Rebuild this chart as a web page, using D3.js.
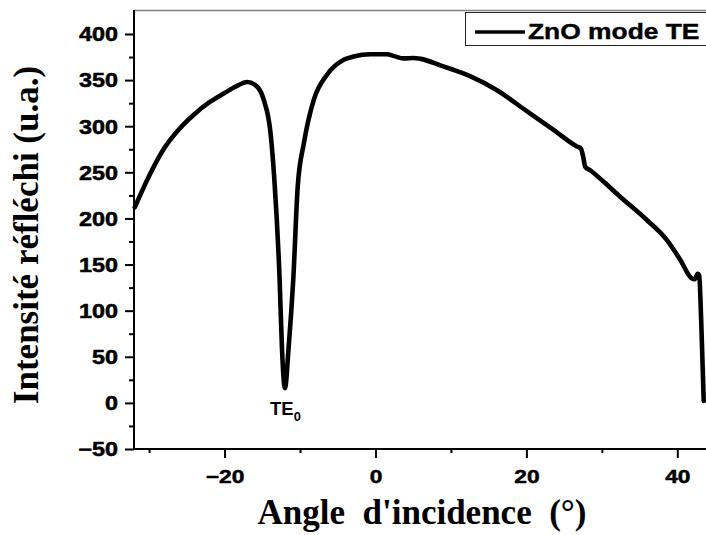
<!DOCTYPE html>
<html>
<head>
<meta charset="utf-8">
<script src="https://cdn.jsdelivr.net/npm/d3@7"></script>
<style>
  html, body { margin: 0; padding: 0; background: #fff; }
  svg { display: block; }
</style>
</head>
<body>
<svg id="chart" width="706" height="535"></svg>
<script>
// ---- data ----
const angles = [-31.9, -30.0, -28.0, -26.0, -24.0, -22.0, -20.0, -18.5, -17.0, -15.7, -14.8,
  -13.9, -13.4, -12.7, -12.4, -12.0, -11.5, -10.9, -10.3, -9.5, -8.2,
  -6.4, -4.2, -2.9, -0.7, 1.5, 2.5, 3.7, 5.0, 6.0, 8.6,
  10.0, 12.6, 16.1, 20.1, 23.6, 26.7, 27.2, 27.5, 27.8, 28.5,
  30.2, 32.5, 36.0, 38.6, 40.4, 41.9, 42.3, 42.7, 42.9, 43.2, 43.5];
const intensity = [212, 246, 276, 297, 313, 326, 336, 343, 348, 343, 328.5,
  292, 242, 133, 61, 16, 61, 133, 235, 281, 328,
  356, 372, 375.5, 378, 378, 376, 373.5, 374, 373, 366,
  362, 354, 339, 316, 296, 278, 276, 268, 256, 252,
  240, 223, 198, 176.7, 155, 135, 134, 140, 138, 80, 2];
const xMajorTicks = [-20, 0, 20, 40];
const xMinorTicks = [-30, -10, 10, 30];
const yMajorTicks = [-50, 0, 50, 100, 150, 200, 250, 300, 350, 400];
const yMinorTicks = [-25, 25, 75, 125, 175, 225, 275, 325, 375];
const seriesName = "ZnO mode TE";
const peakLabel = "TE";
const peakSub = "0";
const xTitle = "Angle\u00A0 d'incidence\u00A0 (°)";
const yTitle = "Intensité réfléchi (u.a.)";

(function () {
// ---- layout ----
const svg = d3.select("#chart");
const plotLeft = 134, plotTop = 10, plotBottom = 449;
const x = d3.scaleLinear().domain([-32, 44]).range([plotLeft, 707.5]);
const y = d3.scaleLinear().domain([-50, 426]).range([plotBottom, plotTop]);
const sansBold = "'Liberation Sans', Arial, sans-serif";
const serif = "'Liberation Serif', 'Times New Roman', serif";
const stretch = 1.2;

// top frame line
svg.append("line")
  .attr("x1", plotLeft).attr("x2", 706).attr("y1", plotTop + 0.5).attr("y2", plotTop + 0.5)
  .attr("stroke", "#808080").attr("stroke-width", 1.5);

// x axis
const gx = svg.append("g").attr("transform", `translate(0,${plotBottom})`);
gx.call(d3.axisBottom(x).tickValues(xMajorTicks).tickSize(9).tickSizeOuter(0).tickFormat(d3.format("d")));
const gxm = svg.append("g").attr("transform", `translate(0,${plotBottom})`);
gxm.call(d3.axisBottom(x).tickValues(xMinorTicks).tickSize(4).tickSizeOuter(0).tickFormat(""));
gxm.select(".domain").remove();

// y axis
const gy = svg.append("g").attr("transform", `translate(${plotLeft},0)`);
gy.call(d3.axisLeft(y).tickValues(yMajorTicks).tickSize(9).tickSizeOuter(0).tickFormat(d3.format("d")));
const gym = svg.append("g").attr("transform", `translate(${plotLeft},0)`);
gym.call(d3.axisLeft(y).tickValues(yMinorTicks).tickSize(5).tickSizeOuter(0).tickFormat(""));
gym.select(".domain").remove();

svg.selectAll(".domain").attr("stroke", "#000").attr("stroke-width", 2);
svg.selectAll(".tick line").attr("stroke", "#000").attr("stroke-width", 2);

gy.select(".domain").attr("d", `M0,${plotTop}V${plotBottom}`);
gx.select(".domain").attr("d", `M${plotLeft},0H706`);

gx.selectAll(".tick text")
  .attr("font-family", sansBold).attr("font-weight", "bold").attr("font-size", 19)
  .attr("fill", "#000").attr("stroke", "#000").attr("stroke-width", 0.5)
  .attr("y", 0).attr("dy", 0)
  .attr("transform", `translate(0,34) scale(${stretch},1)`);
gy.selectAll(".tick text")
  .attr("font-family", sansBold).attr("font-weight", "bold").attr("font-size", 19.5)
  .attr("fill", "#000").attr("stroke", "#000").attr("stroke-width", 0.5)
  .attr("x", 0).attr("dy", "0.35em").attr("text-anchor", "end")
  .attr("transform", `translate(-16,0) scale(${stretch},1)`);

// curve
const pts = angles.map((a, i) => [a, intensity[i]]);
const line = d3.line().x(d => x(d[0])).y(d => y(d[1])).curve(d3.curveMonotoneX);
svg.append("path").datum(pts)
  .attr("d", line).attr("fill", "none").attr("stroke", "#000")
  .attr("stroke-width", 4.6).attr("stroke-linejoin", "round").attr("stroke-linecap", "round");

// TE0 label
const te = svg.append("text").attr("x", 270).attr("y", 415)
  .attr("font-family", sansBold).attr("font-weight", "bold").attr("font-size", 18.5).attr("fill", "#000");
te.append("tspan").text(peakLabel);
te.append("tspan").attr("font-size", 13).attr("dy", 6).text(peakSub);

// legend
svg.append("rect").attr("x", 465.5).attr("y", 12.5).attr("width", 260).attr("height", 33)
  .attr("fill", "#fff").attr("stroke", "#222").attr("stroke-width", 1);
svg.append("line").attr("x1", 475).attr("x2", 525).attr("y1", 32).attr("y2", 32)
  .attr("stroke", "#000").attr("stroke-width", 3.5);
svg.append("text").attr("x", 0).attr("y", 0)
  .attr("transform", `translate(528,39) scale(${stretch},1)`)
  .attr("font-family", sansBold).attr("font-weight", "bold").attr("font-size", 22)
  .attr("fill", "#000").attr("stroke", "#000").attr("stroke-width", 0.4)
  .text(seriesName);

// axis titles
svg.append("text").attr("x", 422).attr("y", 524).attr("text-anchor", "middle")
  .attr("font-family", serif).attr("font-weight", "bold").attr("font-size", 35).attr("fill", "#000")
  .text(xTitle);
svg.append("text").attr("transform", "translate(38,235) rotate(-90)").attr("text-anchor", "middle")
  .attr("font-family", serif).attr("font-weight", "bold").attr("font-size", 35).attr("fill", "#000")
  .text(yTitle);
})();
</script>
</body>
</html>
